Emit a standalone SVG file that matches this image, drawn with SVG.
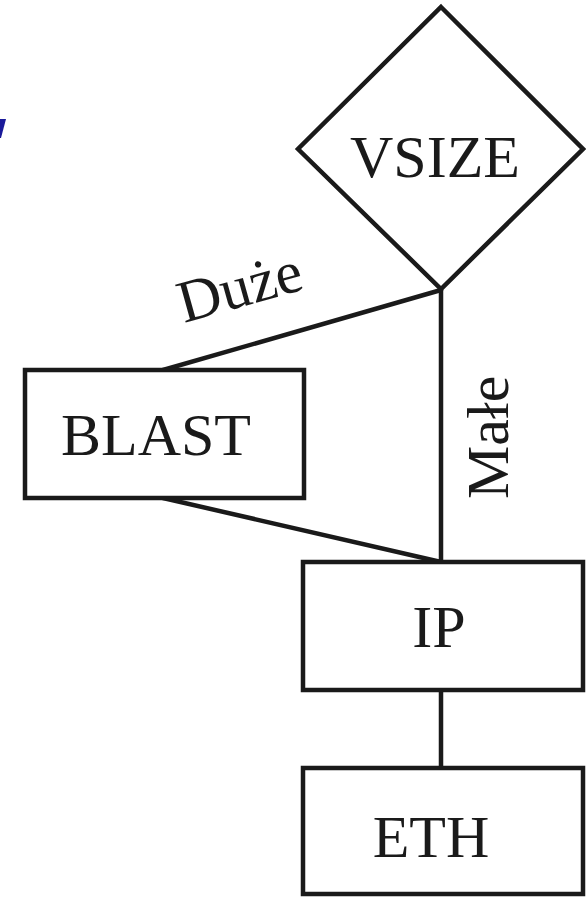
<svg xmlns="http://www.w3.org/2000/svg" width="586" height="897" viewBox="0 0 586 897">
<style>
.shape{fill:#fff;stroke:#1a1a1a;stroke-width:4.5}
.conn{stroke:#1a1a1a;stroke-width:4.5;fill:none;stroke-linecap:round}
.t{font-family:'Liberation Serif','Times New Roman',Tinos,Times,serif;font-size:60px;fill:#1a1a1a}
</style>
<rect width="586" height="897" fill="#fff"/>
<polygon points="0,119 6,119 1,138 0,138" fill="#1a1a9a"/>
<g id="connectors">
<line class="conn" x1="441" y1="290" x2="163" y2="370"/>
<line class="conn" x1="163" y1="498" x2="441" y2="562"/>
<line class="conn" x1="441" y1="290" x2="441" y2="562"/>
<line class="conn" x1="441" y1="690" x2="441" y2="768"/>
<text class="t" x="184" y="323" transform="rotate(-15.6 184 323)">Duże</text>
<text class="t" x="508" y="499" transform="rotate(-90 508 499)">Małe</text>
</g>
<g id="vsize">
<polygon class="shape" points="441,7 583,149 441,289 298,149"/>
<text class="t" x="435" y="177" text-anchor="middle">VSIZE</text>
</g>
<g id="blast">
<rect class="shape" x="25" y="370" width="279" height="128"/>
<text class="t" x="156" y="455" text-anchor="middle">BLAST</text>
</g>
<g id="ip">
<rect class="shape" x="303" y="562" width="280" height="128"/>
<text class="t" x="439" y="647" text-anchor="middle">IP</text>
</g>
<g id="eth">
<rect class="shape" x="303" y="768" width="280" height="126"/>
<text class="t" x="431" y="857" text-anchor="middle">ETH</text>
</g>
</svg>
